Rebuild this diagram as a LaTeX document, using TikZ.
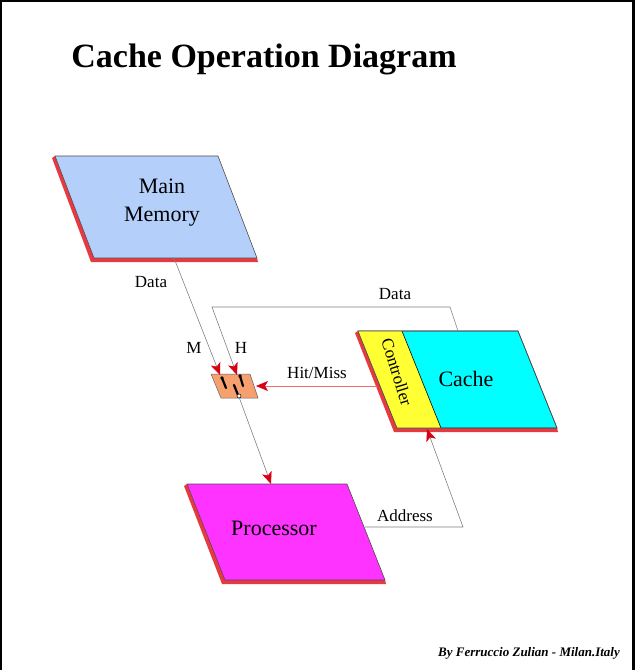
\documentclass[tikz,border=0pt]{standalone}
\usepackage{fontspec}
\setmainfont{Liberation Serif}
\usepackage{tikz}
\usetikzlibrary{positioning,calc,arrows.meta}

\definecolor{memblue}{RGB}{180,208,250}
\definecolor{cachecyan}{RGB}{0,255,255}
\definecolor{ctrlyellow}{RGB}{255,255,51}
\definecolor{procmag}{RGB}{255,51,255}
\definecolor{slabred}{RGB}{232,56,64}
\definecolor{tipred}{RGB}{215,0,20}
\definecolor{wiregray}{RGB}{128,128,128}
\definecolor{hitred}{RGB}{240,110,110}
\definecolor{swor}{RGB}{245,160,110}

\tikzset{
	wire/.style={draw=wiregray,line width=.6pt,-{Stealth[length=12pt,width=10pt,inset=3pt,color=tipred]}},
	lbl/.style={font=\fontsize{17}{19}\selectfont},
	blk/.style={font=\fontsize{22}{28}\selectfont,align=center},
	contact/.style={line width=2.2pt,line cap=round}
}

% slab: fill, left x, right x, top y, bottom y, slant
\newcommand{\slab}[6]{%
	\fill[slabred] (#2-3,#4+2) -- (#2,#4) -- (#2+#6,#5) -- (#3+#6,#5) -- (#3+#6+1,#5+4) -- (#2+#6-3,#5+4) -- cycle;
	\filldraw[fill=#1,draw=black!70,line width=.6pt] (#2,#4) -- (#3,#4) -- (#3+#6,#5) -- (#2+#6,#5) -- cycle;
}

\begin{document}
\begin{tikzpicture}[x=1pt,y=-1pt]
		\useasboundingbox (0,0) rectangle (635,670);
		% frame
		\draw[line width=1.5pt] (0.75,670) -- (0.75,0.75) -- (632,0.75);
		\fill (631.5,0) rectangle (635,670);

		\node[font=\fontsize{34}{38}\selectfont\bfseries] (title) at (264,59) {Cache Operation Diagram};

		% blocks
		\slab{memblue}{55}{218}{156}{258}{39}
		\node[blk] (mm) at (162,203) {Main\\Memory};

		\slab{cachecyan}{358}{518}{331}{428}{39}
		\fill[ctrlyellow] (358,331) -- (402,331) -- (441,428) -- (397,428) -- cycle;
		\draw[line width=.6pt] (402,331) -- (441,428);
		\draw[black!70,line width=.6pt] (358,331) -- (518,331) -- (557,428) -- (397,428) -- cycle;
		\node[blk] (cache) at (466,379) {Cache};
		\node[lbl,rotate=-73,inner sep=0pt] (ctrl) at (397,372) {Controller};

		\slab{procmag}{187}{347}{484}{580}{38}
		\node[blk] (proc) at (274,528) {Processor};

		% switch
		\filldraw[fill=swor,draw=black!60,line width=.5pt] (211,374) -- (250,374) -- (258,398) -- (221,398) -- cycle;
		\node[inner sep=0,minimum size=0] (sw) at (236,386) {};
		\draw[contact] (222,378) -- (226,388);
		\draw[contact] (240,376) -- (243,386);
		\draw[contact] (234,385) -- (238,395);
		\fill (222,378) circle (1.8) (240,376) circle (1.8);
		\filldraw[fill=white,draw=black,line width=.5pt] (239,396) circle (2);

		% connector ends
		\coordinate (mmout) at (174,258);
		\coordinate (swM) at (220,375);
		\coordinate (cachetop) at (458,331);
		\coordinate (d1) at (450,307);
		\coordinate (d2) at (212,307);
		\coordinate (swH) at (237,375);
		\coordinate (swout) at (239,397);
		\coordinate (procin) at (271,484);
		\coordinate (ctrlout) at (377,386);
		\coordinate (swR) at (256,386);
		\coordinate (procout) at (365,527);
		\coordinate (a1) at (463,527);
		\coordinate (cachebot) at (427,429);

		\draw[wire] (mmout) -- (swM);
		\draw[wire] (cachetop) -- (d1) -- (d2) -- (swH);
		\draw[wire] (swout) -- (procin);
		\draw[wire,draw=hitred] (ctrlout) -- (swR);
		\draw[wire] (procout) -- (a1) -- (cachebot);

		% labels
		\node[lbl] (ldata) at (151,282) {Data};
		\node[lbl] (ldata2) at (395,294) {Data};
		\node[lbl] (lm) at (194,348) {M};
		\node[lbl] (lh) at (241,348) {H};
		\node[lbl] (lhit) at (317,373) {Hit/Miss};
		\node[lbl] (laddr) at (405,516) {Address};

		\node[font=\fontsize{13}{15}\selectfont\bfseries\itshape] (credit) at (529,653) {By Ferruccio Zulian - Milan.Italy};
	\end{tikzpicture}
\end{document}
